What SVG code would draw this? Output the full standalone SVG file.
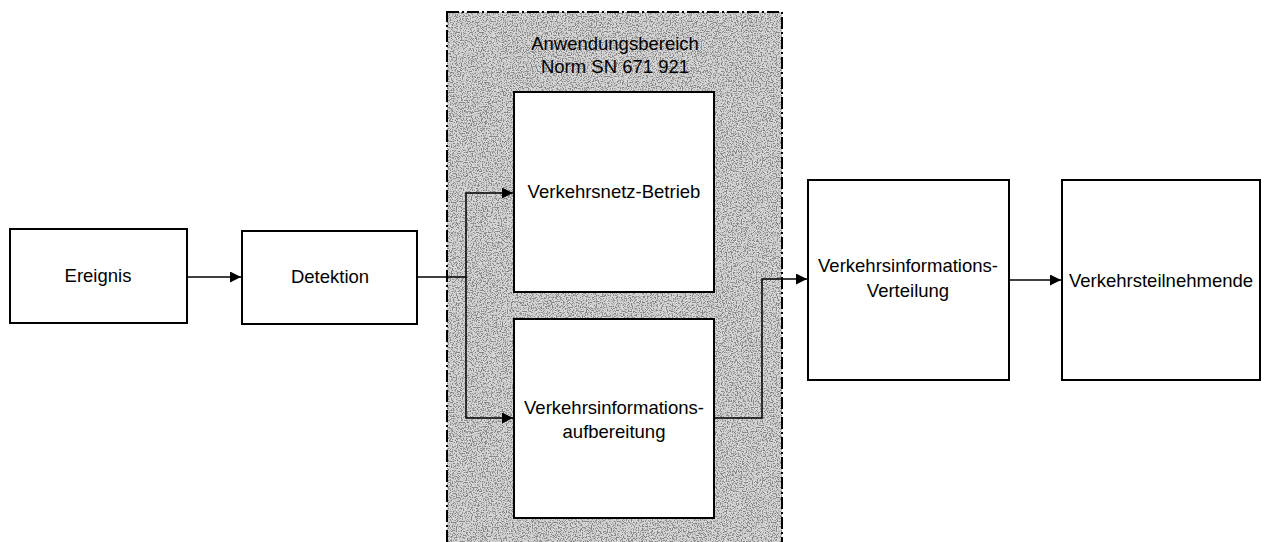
<svg xmlns="http://www.w3.org/2000/svg" width="1267" height="542" viewBox="0 0 1267 542">
<style>
.box{fill:#fff;stroke:#000;stroke-width:2}
.t{font-family:"Liberation Sans",Arial,sans-serif;font-size:18.5px;fill:#000;text-anchor:middle}
.c{fill:none;stroke:#000;stroke-width:1.5}
</style>
<defs>
<marker id="ah" viewBox="0 0 10 10" refX="10" refY="5" markerWidth="12" markerHeight="11" markerUnits="userSpaceOnUse" orient="auto">
<path d="M0,0 L10,5 L0,10 z" fill="#000"/>
</marker>
<filter id="noise" x="0" y="0" width="100%" height="100%" filterUnits="objectBoundingBox">
<feTurbulence type="fractalNoise" baseFrequency="0.8" numOctaves="2" seed="5" result="n"/>
<feColorMatrix in="n" type="matrix" values="0 0 0 0 0  0 0 0 0 0  0 0 0 0 0  4 0 0 0 -1.7" result="dark"/>
<feColorMatrix in="n" type="matrix" values="0 0 0 0 1  0 0 0 0 1  0 0 0 0 1  -4 0 0 0 2.3" result="light"/>
<feMerge><feMergeNode in="dark"/><feMergeNode in="light"/></feMerge>
</filter>
</defs>
<g id="scope">
<rect x="447" y="12" width="335" height="540" fill="#c9c9c9"/>
<rect x="447" y="12" width="335" height="540" fill="#c9c9c9" filter="url(#noise)" opacity="0.35"/>
<rect x="447" y="12" width="335" height="540" fill="none" stroke="#000" stroke-width="2" stroke-dasharray="12 3 2 3"/>
<text class="t" x="615" y="50">Anwendungsbereich</text>
<text class="t" x="615" y="73">Norm SN 671 921</text>
</g>
<g id="connectors">
<path class="c" d="M187,277 H241" marker-end="url(#ah)"/>
<path class="c" d="M417,277 H466 V193 H513" marker-end="url(#ah)"/>
<path class="c" d="M466,277 V418 H513" marker-end="url(#ah)"/>
<path class="c" d="M714,418 H762 V279 H807" marker-end="url(#ah)"/>
<path class="c" d="M1009,280 H1061" marker-end="url(#ah)"/>
</g>
<g id="ereignis">
<rect class="box" x="10" y="229" width="177" height="94"/>
<text class="t" x="98" y="282">Ereignis</text>
</g>
<g id="detektion">
<rect class="box" x="242" y="231" width="175" height="93"/>
<text class="t" x="330" y="283">Detektion</text>
</g>
<g id="betrieb">
<rect class="box" x="514" y="92" width="200" height="200"/>
<text class="t" x="614" y="198">Verkehrsnetz-Betrieb</text>
</g>
<g id="aufbereitung">
<rect class="box" x="514" y="319" width="200" height="199"/>
<text class="t" x="614" y="414">Verkehrsinformations-</text>
<text class="t" x="614" y="438">aufbereitung</text>
</g>
<g id="verteilung">
<rect class="box" x="808" y="180" width="201" height="200"/>
<text class="t" x="908" y="272">Verkehrsinformations-</text>
<text class="t" x="908" y="297">Verteilung</text>
</g>
<g id="teilnehmende">
<rect class="box" x="1062" y="180" width="198" height="200"/>
<text class="t" x="1161" y="287">Verkehrsteilnehmende</text>
</g>
</svg>
